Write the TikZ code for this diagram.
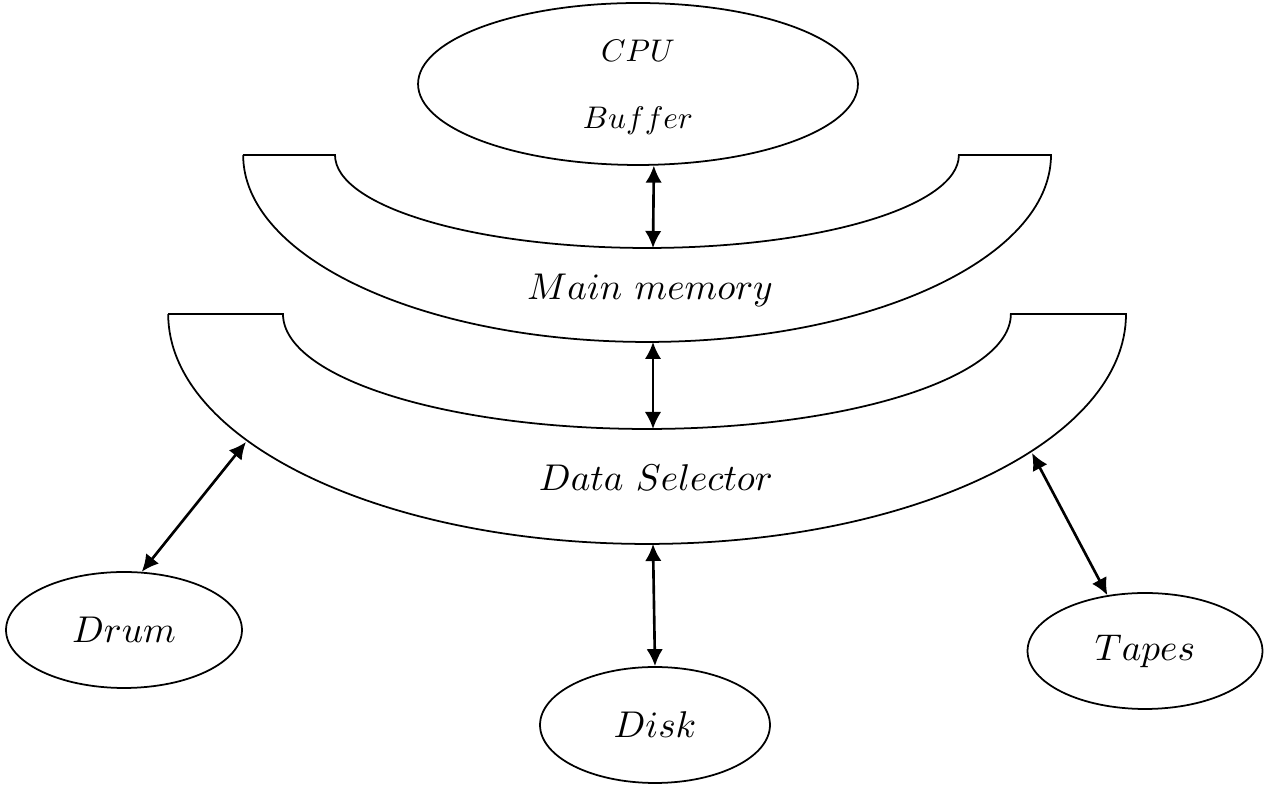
\documentclass[tikz,border=0pt]{standalone}
\usepackage{graphicx}
\usetikzlibrary{shapes.geometric,arrows.meta}

\newcommand{\bigtext}[1]{\scalebox{2.12}{$#1$}}
\newcommand{\midtext}[1]{\scalebox{2.12}{$#1$}}
\newcommand{\smalltext}[1]{\scalebox{1.78}{$#1$}}

\tikzset{
  outline/.style={draw=black, line width=1.0pt},
  unit/.style={outline, ellipse, inner sep=0pt, align=center},
  link/.style={line width=1.5pt, {Latex[length=0.34cm,width=0.33cm]}-{Latex[length=0.34cm,width=0.33cm]}}
}

\begin{document}
\begin{tikzpicture}[x=0.02cm, y=0.02cm]
\useasboundingbox (0,0) rectangle (1265,787);

% processor
\node[unit, minimum width=8.8cm, minimum height=3.24cm] (cpu) at (638,703) {};
\node (cpu-a) at (638,736) {\smalltext{CPU}};
\node (cpu-b) at (638,666) {\smalltext{Buffer}};

% main memory band
\draw[outline] (243,632) -- (335,632)
  arc[start angle=180, end angle=360, x radius=6.24cm, y radius=1.86cm]
  -- (1051,632)
  arc[start angle=0, end angle=-180, x radius=8.08cm, y radius=3.74cm] -- cycle;
\node (mem) at (650,497) {\midtext{Main\ memory}};

% data selector band
\draw[outline] (168,473) -- (283,473)
  arc[start angle=180, end angle=360, x radius=7.28cm, y radius=2.30cm]
  -- (1126,473)
  arc[start angle=0, end angle=-180, x radius=9.58cm, y radius=4.60cm] -- cycle;
\node (sel) at (656,309) {\midtext{Data\ Selector}};

% points on the bands
\coordinate (mem-in)  at (653,539);
\coordinate (mem-out) at (653,445);
\coordinate (sel-in)  at (653,358);
\coordinate (sel-out) at (653,243);
\coordinate (sel-l)   at (246,345);
\coordinate (sel-r)   at (1032,334);

% devices
\node[unit, minimum width=4.72cm, minimum height=2.32cm] (drum)  at (124,157)  {\bigtext{Drum}};
\node[unit, minimum width=4.6cm,  minimum height=2.32cm] (disk)  at (655,62)   {\bigtext{Disk}};
\node[unit, minimum width=4.7cm,  minimum height=2.32cm] (tapes) at (1145,136) {\bigtext{Tapes}};

% transfers
\draw[link] (cpu.-79) -- (mem-in);
\draw[link] (mem-out) -- (sel-in);
\draw[link] (sel-out) -- (disk.north);
\draw[link] (sel-l) -- (drum.73);
\draw[link] (sel-r) -- (tapes.124);
\end{tikzpicture}
\end{document}
